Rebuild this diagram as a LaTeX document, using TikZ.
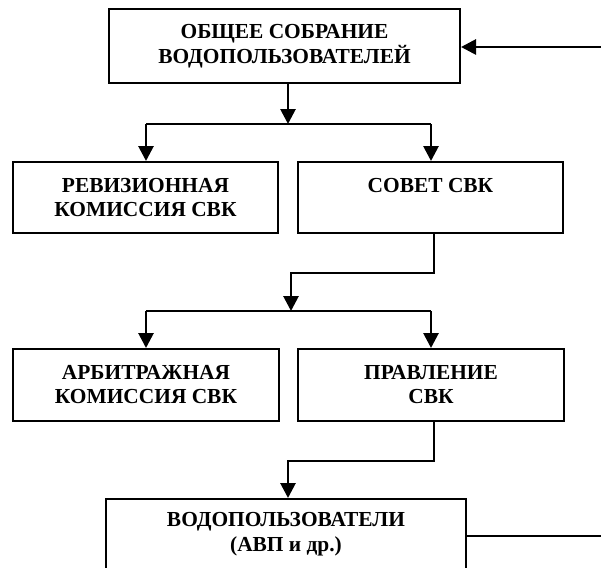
\documentclass[tikz,border=0pt]{standalone}
\usepackage{fontspec}
\setmainfont{Liberation Serif}
\usetikzlibrary{arrows.meta}
\tikzset{
  box/.style={draw, line width=2pt, rectangle, align=center, inner sep=0pt,
    font=\fontsize{21.4}{24}\selectfont\bfseries},
  conn/.style={line width=2.8pt},
  arr/.style={conn, -{Triangle[length=15pt,width=15pt]}}
}
\begin{document}
\begin{tikzpicture}[x=1pt,y=-1pt]
\useasboundingbox (0,0) rectangle (601,567);
\node[box, minimum width=351pt, minimum height=74pt, font=\fontsize{21.4}{25}\selectfont\bfseries] (top) at (284.5,46) {ОБЩЕЕ СОБРАНИЕ\\ВОДОПОЛЬЗОВАТЕЛЕЙ};
\node[box, minimum width=265pt, minimum height=71pt] (rev) at (145.5,197.5) {РЕВИЗИОННАЯ\\КОМИССИЯ СВК};
\node[box, minimum width=265pt, minimum height=71pt] (sov) at (430.5,197.5) {СОВЕТ СВК\\\phantom{С}};
\node[box, minimum width=266pt, minimum height=72pt] (arb) at (146,385) {АРБИТРАЖНАЯ\\КОМИССИЯ СВК};
\node[box, minimum width=266pt, minimum height=72pt] (prav) at (431,385) {ПРАВЛЕНИЕ\\СВК};
\node[box, minimum width=360pt, minimum height=70pt, font=\fontsize{21.4}{25}\selectfont\bfseries] (wv) at (286,534) {ВОДОПОЛЬЗОВАТЕЛИ\\(АВП и др.)};
% input from right
\coordinate (inR) at (601,47);
\draw[arr] (inR) -- (inR -| top.east);
% top to first bar
\coordinate (b1) at (288,124);
\coordinate (b1l) at (146,124);
\coordinate (b1r) at (431,124);
\draw[arr] (b1 |- top.south) -- (b1);
\draw[conn] (b1l) -- (b1r);
\draw[arr] (b1l) -- (b1l |- rev.north);
\draw[arr] (b1r) -- (b1r |- sov.north);
% sovet to second bar
\coordinate (s1) at (434,273);
\coordinate (s2) at (291,273);
\coordinate (b2) at (291,311);
\coordinate (b2l) at (146,311);
\coordinate (b2r) at (431,311);
\draw[arr] (s1 |- sov.south) -- (s1) -- (s2) -- (b2);
\draw[conn] (b2l) -- (b2r);
\draw[arr] (b2l) -- (b2l |- arb.north);
\draw[arr] (b2r) -- (b2r |- prav.north);
% pravlenie to users
\coordinate (p1) at (434,461);
\coordinate (p2) at (288,461);
\draw[arr] (p1 |- prav.south) -- (p1) -- (p2) -- (p2 |- wv.north);
% output to right
\coordinate (outR) at (601,536);
\draw[conn] (outR -| wv.east) -- (outR);
\end{tikzpicture}
\end{document}
